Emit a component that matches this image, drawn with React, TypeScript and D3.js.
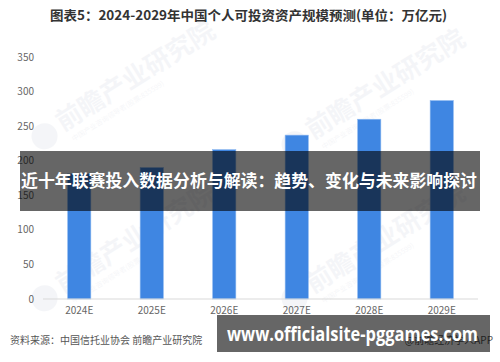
import React from "react";
import * as d3 from "d3";

const categories = ["2024E", "2025E", "2026E", "2027E", "2028E", "2029E"];
const values = [181, 190, 216, 237, 260, 287];
const yTicks = [0, 50, 100, 150, 200, 250, 300, 350];

const W = 500;
const H = 362;
const margin = { left: 43, right: 22, top: 57, bottom: 63 };

const font = "'Microsoft YaHei', 'Noto Sans CJK SC', 'Noto Sans', sans-serif";

const watermarks = [
  { x: 95, y: 100 },
  { x: 345, y: 108 },
  { x: 95, y: 262 },
  { x: 345, y: 262 },
];

export default function App() {
  const x = d3
    .scaleBand<string>()
    .domain(categories)
    .range([margin.left, W - margin.right])
    .paddingInner(0.68)
    .paddingOuter(0.34);
  const y = d3
    .scaleLinear()
    .domain([0, 350])
    .range([H - margin.bottom, margin.top]);

  return (
    <svg
      width={W}
      height={H}
      style={{ position: "absolute", left: 0, top: 0, background: "#fff" }}
      fontFamily={font}
    >
      <rect width={W} height={H} fill="#fff" />
      <text
        x={50}
        y={20}
        fontSize={13}
        fontWeight="bold"
        fill="#333"
        textLength={397}
        lengthAdjust="spacingAndGlyphs"
      >
        图表5：2024-2029年中国个人可投资资产规模预测(单位：万亿元)
      </text>

      {yTicks.map((t) => (
        <text
          key={t}
          x={margin.left - 9}
          y={y(t)}
          dy="0.35em"
          textAnchor="end"
          fontSize={10}
          fill="#666"
        >
          {t}
        </text>
      ))}

      {watermarks.map((p, i) => (
        <g key={i} transform={`translate(${p.x},${p.y}) rotate(-32)`} opacity={0.045}>
          <circle cx={-62} cy={4} r={13} fill="#1f3b73" />
          <text x={-44} y={10} fontSize={26} fontWeight="bold" fill="#1f3b73">
            前瞻产业研究院
          </text>
          <text x={-40} y={24} fontSize={7} fill="#1f3b73">
            中国产业咨询领导者(股票:835599)
          </text>
        </g>
      ))}

      {categories.map((c, i) => (
        <rect
          key={c}
          x={x(c)}
          y={y(values[i])}
          width={x.bandwidth()}
          height={y(0) - y(values[i])}
          fill="#3f86e2"
          stroke="#8db8f0"
          strokeWidth={0.6}
        />
      ))}

      <line
        x1={margin.left}
        x2={W - margin.right}
        y1={y(0)}
        y2={y(0)}
        stroke="#d9d9d9"
        strokeWidth={1}
      />

      {categories.map((c) => (
        <text
          key={c}
          x={(x(c) ?? 0) + x.bandwidth() / 2}
          y={y(0) + 15}
          textAnchor="middle"
          fontSize={10}
          fill="#666"
        >
          {c}
        </text>
      ))}

      <text x={10} y={344} fontSize={10} fill="#555">
        资料来源：中国信托业协会 前瞻产业研究院
      </text>
      <text x={493} y={344} textAnchor="end" fontSize={10} fill="#555">
        @前瞻经济学人APP
      </text>

      <rect x={20} y={151} width={460} height={60} fill="#000" opacity={0.6} />
      <text
        x={21}
        y={181}
        dy="0.36em"
        fontSize={17}
        fontWeight="bold"
        fill="#fff"
        textLength={456}
        lengthAdjust="spacingAndGlyphs"
      >
        近十年联赛投入数据分析与解读：趋势、变化与未来影响探讨
      </text>

      <rect x={217} y={315} width={273} height={37} fill="#000" opacity={0.6} />
      <text
        x={227}
        y={334}
        dy="0.36em"
        fontSize={19}
        fontWeight="bold"
        fill="#fff"
        fontFamily="'Open Sans', 'DejaVu Sans', sans-serif"
        textLength={251}
        lengthAdjust="spacingAndGlyphs"
      >
        www.officialsite-pggames.com
      </text>
    </svg>
  );
}
